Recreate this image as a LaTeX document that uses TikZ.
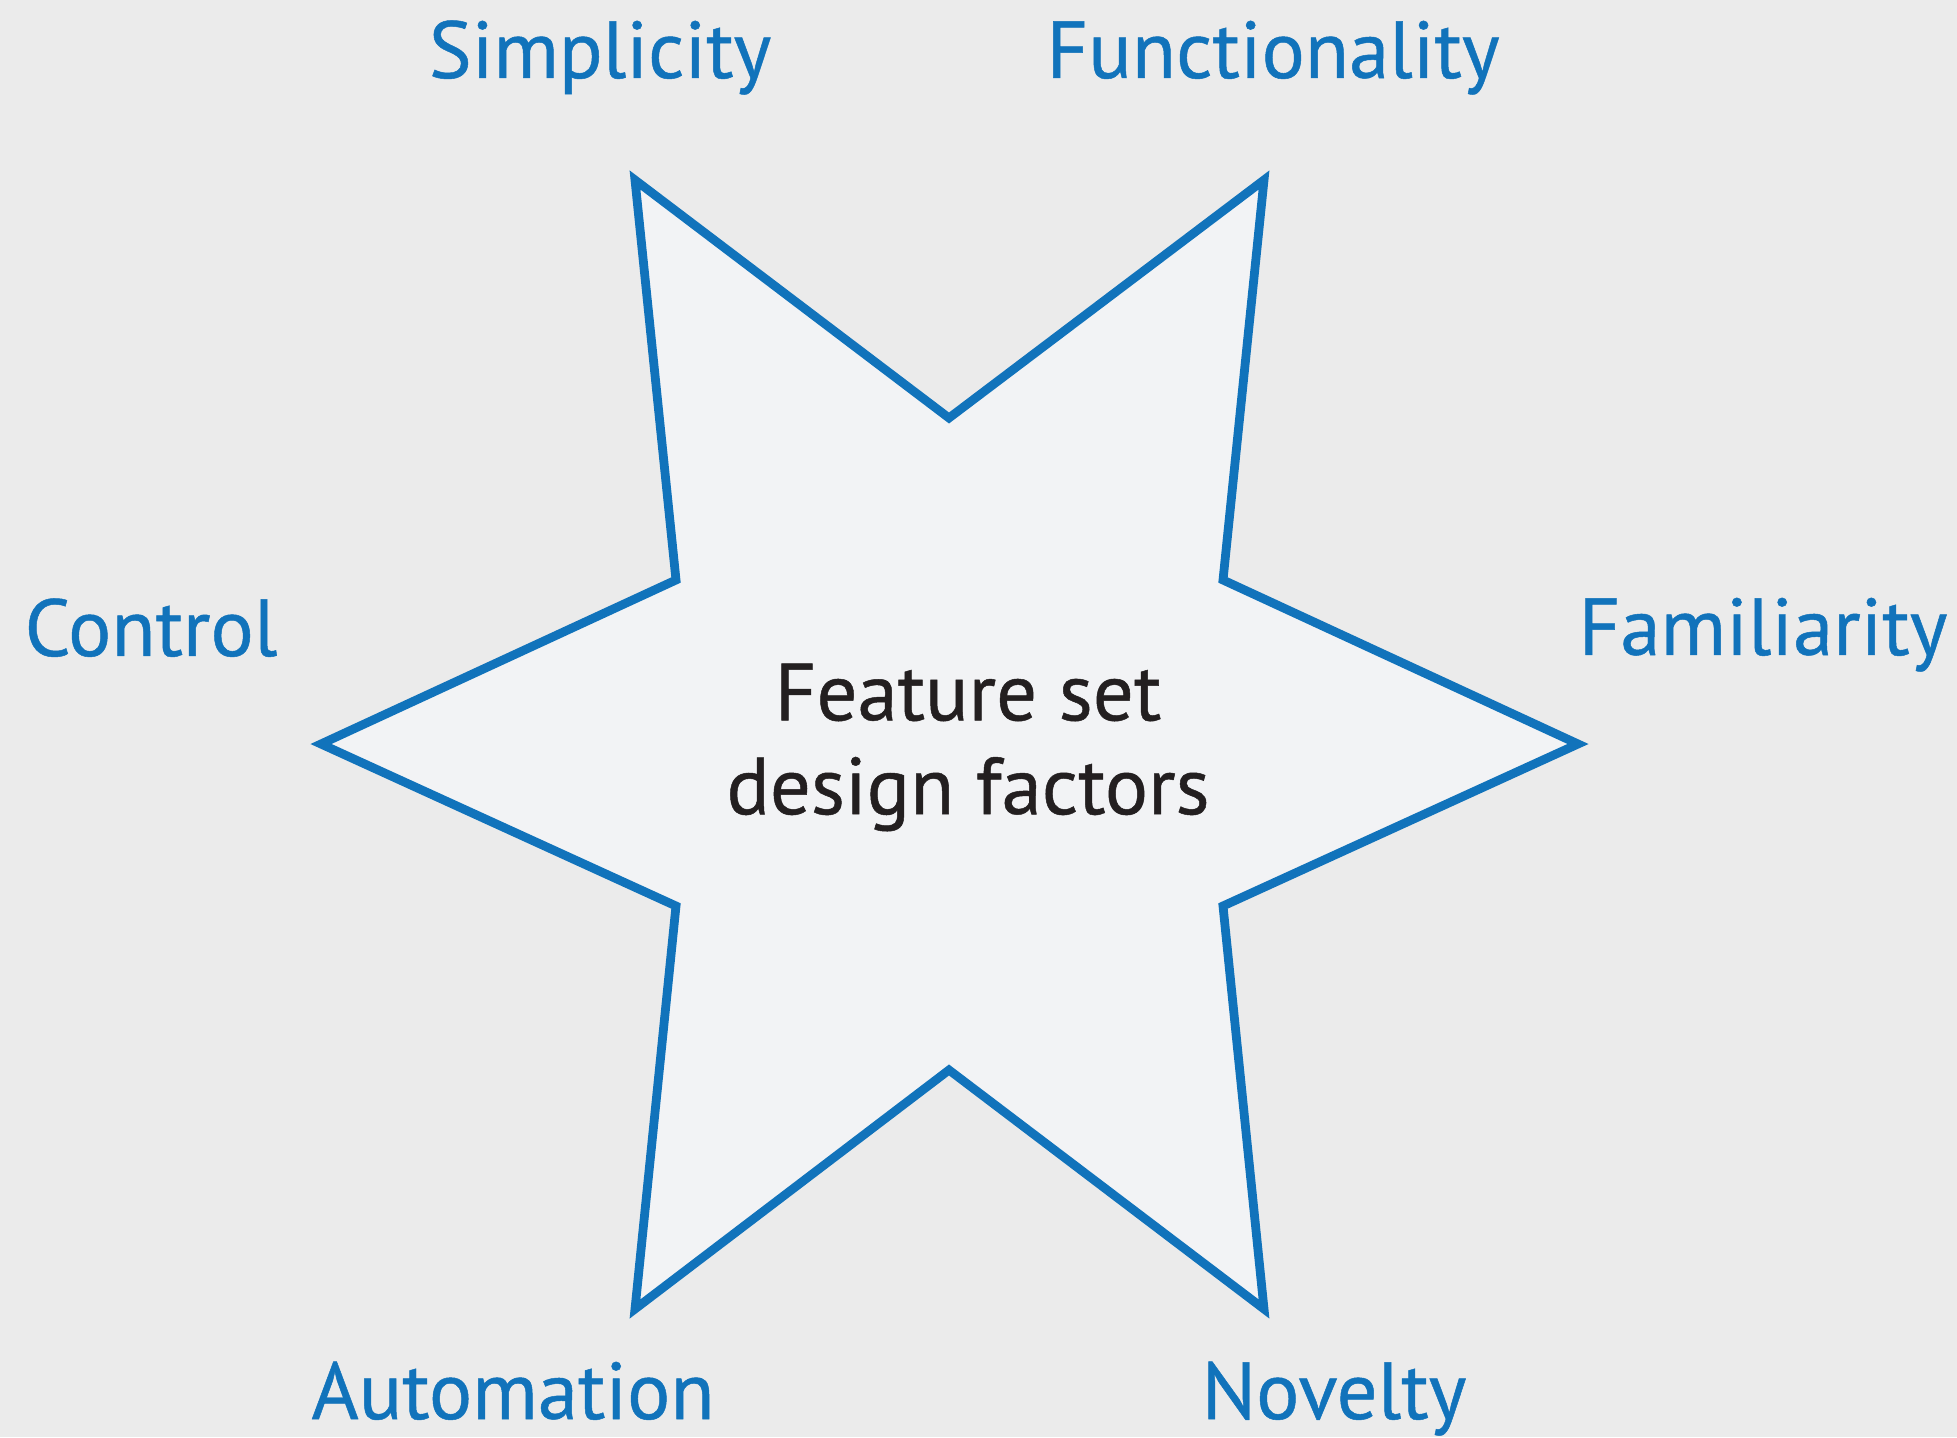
\documentclass[tikz,border=0pt]{standalone}
\usepackage{fontspec}
\setmainfont{PT Sans}[FakeBold=0.6]
\usepackage{xcolor}
\usetikzlibrary{positioning}

\definecolor{fblue}{RGB}{17,115,187}
\definecolor{bggray}{RGB}{235,235,235}
\definecolor{starfill}{RGB}{242,243,245}
\definecolor{ink}{RGB}{35,31,32}

\begin{document}
\begin{tikzpicture}[]
	%\draw[help lines] (0,0) grid (20,15);
	
	\tikzstyle{lnode} = [anchor=base,inner sep=0pt,text=fblue,font=\fontsize{23}{27}\selectfont]
	\tikzstyle{cnode} = [align=center,inner sep=0pt,text=ink,font=\fontsize{23}{26.7}\selectfont]
	\tikzstyle{sedge} = [draw=fblue,fill=starfill,line width=2.5pt,line join=miter]
	
	\fill[bggray] (0,0) rectangle (19.57,14.37);
	\useasboundingbox (0,0) rectangle (19.57,14.37);
	
	\coordinate (tl) at (6.35, 12.57);
	\coordinate (it) at (9.49, 10.19);
	\coordinate (tr) at (12.64, 12.57);
	\coordinate (ir1) at (12.23, 8.57);
	\coordinate (r) at (15.78, 6.93);
	\coordinate (ir2) at (12.23, 5.31);
	\coordinate (br) at (12.64, 1.28);
	\coordinate (ib) at (9.49, 3.67);
	\coordinate (bl) at (6.35, 1.28);
	\coordinate (il2) at (6.76, 5.31);
	\coordinate (l) at (3.21, 6.93);
	\coordinate (il1) at (6.76, 8.57);
	
	\draw[sedge] (tl) -- (it) -- (tr) -- (ir1) -- (r) -- (ir2) -- (br) -- (ib) -- (bl) -- (il2) -- (l) -- (il1) -- cycle;
	
	\node[cnode] (fsdf) at (9.68, 6.895) {Feature set\\design factors};
	
	\node[lnode] (simp) at (6.00, 13.59) {Simplicity};
	\node[lnode] (func) at (12.73, 13.59) {Functionality};
	\node[lnode] (ctrl) at (1.51, 7.81) {Control};
	\node[lnode] (fami) at (17.63, 7.82) {Familiarity};
	\node[lnode] (auto) at (5.13, 0.18) {Automation};
	\node[lnode] (nove) at (13.34, 0.18) {Novelty};

\end{tikzpicture}
\end{document}
